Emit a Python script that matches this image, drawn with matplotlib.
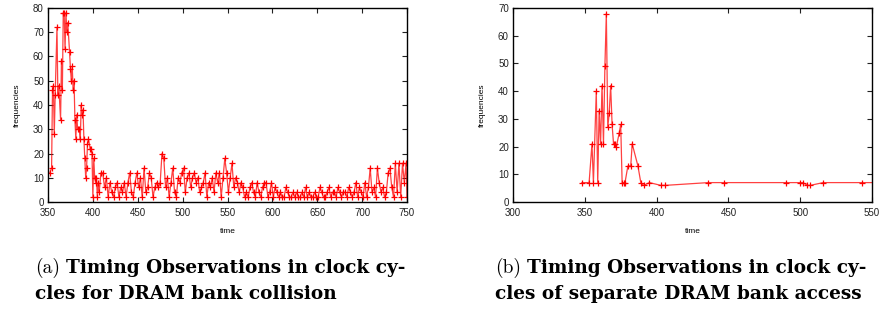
"""Timing observations: DRAM bank collision vs separate bank access."""

import matplotlib

matplotlib.use("Agg")
import matplotlib.pyplot as plt
import numpy as np

# (a) bank collision -- dense peak region read point by point
COLLISION_PEAK_T = [
    352, 354, 355, 356, 357, 358, 360, 361, 362, 364,
    365, 366, 367, 368, 369, 370, 371, 372, 374, 375,
    376, 377, 378, 379, 380, 381, 382, 383, 385, 386,
    387, 388, 389, 390, 391, 392, 393, 394, 395, 397,
    398, 399, 400, 401, 402, 403, 404, 405, 406, 407, 409,
]
COLLISION_PEAK_F = [
    12, 14, 46, 48, 28, 44, 72, 44, 48, 34,
    58, 46, 78, 78, 63, 78, 70, 74, 62, 55,
    50, 56, 46, 50, 34, 26, 36, 30, 30, 26,
    40, 36, 38, 26, 18, 10, 14, 24, 26, 22,
    22, 20, 2, 18, 10, 8, 10, 2, 8, 4, 12,
]
# tail, every second cycle from 411 to 749, then 750
COLLISION_TAIL_T = list(range(411, 750, 2)) + [750]
COLLISION_TAIL_F = [
    12, 6, 10, 2, 8, 4, 2, 6, 8, 2,
    6, 4, 8, 2, 8, 12, 4, 2, 8, 12,
    6, 10, 2, 14, 4, 6, 12, 10, 2, 6,
    8, 6, 8, 20, 18, 6, 10, 2, 8, 14,
    4, 2, 10, 8, 12, 14, 4, 10, 12, 6,
    10, 12, 8, 10, 4, 6, 8, 12, 2, 8,
    6, 10, 4, 12, 8, 12, 2, 10, 18, 12,
    4, 10, 16, 6, 10, 8, 4, 8, 6, 2,
    4, 2, 6, 8, 4, 2, 8, 4, 2, 6,
    8, 8, 2, 4, 8, 2, 6, 4, 2, 4,
    2, 2, 6, 4, 2, 2, 4, 2, 4, 2,
    2, 4, 2, 6, 2, 4, 2, 2, 4, 2,
    2, 6, 4, 2, 2, 4, 6, 2, 4, 4,
    2, 6, 4, 2, 4, 4, 2, 6, 4, 2,
    4, 8, 2, 6, 4, 2, 8, 2, 6, 14,
    4, 6, 2, 14, 8, 4, 6, 2, 4, 12,
    14, 6, 2, 16, 4, 16, 2, 16, 8, 16,
    2,
]

# (b) separate bank access
SEPARATE_T = [
    348, 353, 355, 356, 358, 359, 360, 361, 362, 363,
    364, 365, 366, 367, 368, 369, 370, 371, 372, 374,
    375, 376, 377, 378, 380, 382, 383, 387, 389, 391,
    395, 403, 406, 436, 447, 490, 500, 502, 505, 507,
    516, 543, 555,
]
SEPARATE_F = [
    7, 7, 21, 7, 40, 7, 33, 21, 42, 21,
    49, 68, 27, 32, 42, 28, 21, 21, 20, 25,
    28, 7, 7, 7, 13, 13, 21, 13, 7, 6,
    7, 6, 6, 7, 7, 7, 7, 7, 6, 6,
    7, 7, 7,
]

W, H = 881, 320
RED = "#ff0000"
CAP_FONT = "DejaVu Serif"


def px_axes(fig, left, top, right, bottom):
    return fig.add_axes([left / W, 1 - bottom / H, (right - left) / W, (bottom - top) / H])


def style_axes(ax, xlim, xticks, ylim, yticks):
    ax.set_xlim(*xlim)
    ax.set_ylim(*ylim)
    ax.set_xticks(xticks)
    ax.set_yticks(yticks)
    ax.tick_params(direction="in", length=3.5, width=0.8, top=True, right=True,
                   labelsize=7, colors="#222222")
    ax.tick_params(axis="x", pad=4.5)
    ax.tick_params(axis="y", pad=3)
    for sp in ax.spines.values():
        sp.set_linewidth(1.0)
    ax.set_xlabel("time", fontsize=6, labelpad=7)
    ax.set_ylabel("frequencies", fontsize=6, labelpad=9)


def draw_series(ax, t, f):
    ax.plot(t, f, color=RED, linewidth=0.9, alpha=0.75)
    ax.plot(t, f, linestyle="none", marker="+", markersize=4, markeredgewidth=0.9, color=RED)


def fit_width(fig, text, width_px):
    # scale a text's font so it spans width_px pixels
    renderer = fig.canvas.get_renderer()
    size = text.get_fontsize()
    w = text.get_window_extent(renderer).width
    text.set_fontsize(size * width_px / w)
    return text.get_fontsize()


def caption(fig, x, x_body, x_end, y1, y2, tag, line1, line2):
    fig.text(x / W, 1 - y1 / H, tag, family="cmr10", fontsize=14, va="center")
    t1 = fig.text(x_body / W, 1 - y1 / H, line1, family=CAP_FONT, weight="bold",
                  fontsize=11, va="center")
    size = fit_width(fig, t1, x_end - x_body)
    fig.text(x / W, 1 - y2 / H, line2, family=CAP_FONT, weight="bold",
             fontsize=size, va="center")


plt.rcParams["font.family"] = ["Liberation Sans", "DejaVu Sans"]

fig = plt.figure(figsize=(W / 100, H / 100), dpi=100)

ax_a = px_axes(fig, 48, 8, 407, 202)
draw_series(ax_a, COLLISION_PEAK_T + COLLISION_TAIL_T, COLLISION_PEAK_F + COLLISION_TAIL_F)
style_axes(ax_a, (350, 750), np.arange(350, 751, 50), (0, 80), np.arange(0, 81, 10))

ax_b = px_axes(fig, 513, 8, 872, 202)
draw_series(ax_b, SEPARATE_T, SEPARATE_F)
style_axes(ax_b, (300, 550), np.arange(300, 551, 50), (0, 70), np.arange(0, 71, 10))

caption(fig, 35, 66, 404, 268, 294, "(a)", "Timing Observations in clock cy-",
        "cles for DRAM bank collision")
caption(fig, 495, 527, 866, 268, 294, "(b)", "Timing Observations in clock cy-",
        "cles of separate DRAM bank access")

fig.savefig("out.png", dpi=100)
